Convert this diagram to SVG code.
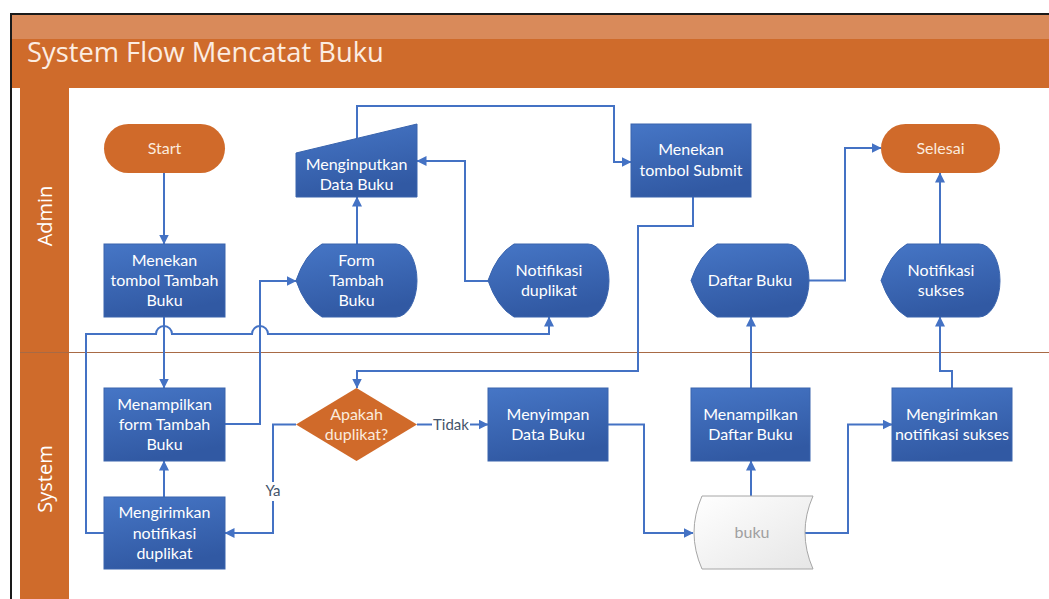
<svg xmlns="http://www.w3.org/2000/svg" width="1049" height="599" viewBox="0 0 1049 599">
<defs>
<linearGradient id="gBlue" x1="0" y1="0" x2="0.3" y2="1">
<stop offset="0" stop-color="#4676C6"/>
<stop offset="1" stop-color="#3159A3"/>
</linearGradient>
<linearGradient id="gGray" x1="0" y1="0" x2="1" y2="1">
<stop offset="0" stop-color="#FFFFFF"/>
<stop offset="1" stop-color="#E6E6E6"/>
</linearGradient>
<marker id="arr" viewBox="0 0 10 10" refX="9.5" refY="5" markerWidth="5" markerHeight="5" orient="auto" markerUnits="strokeWidth">
<path d="M0,0 L10,5 L0,10 Z" fill="#4472C4"/>
</marker>
<style>
.blue{fill:url(#gBlue);stroke:#3A64AD;stroke-width:1}
.orange{fill:#D06A2A;stroke:none}
.t{font-family:"Lato","Liberation Sans",sans-serif;font-size:16px;fill:#FFFFFF;text-anchor:middle}
.to{font-family:"Lato","Liberation Sans",sans-serif;font-size:16px;fill:#FBEBDD;text-anchor:middle}
.c{fill:none;stroke:#4472C4;stroke-width:2}
.ca{fill:none;stroke:#4472C4;stroke-width:2;marker-end:url(#arr)}
.lbl{font-family:"Lato","Liberation Sans",sans-serif;font-size:15px;fill:#44546A;text-anchor:middle}
.lane{font-family:"Open Sans","Noto Sans",sans-serif;font-size:20px;fill:#FFFFFF;text-anchor:middle}
</style>
</defs>
<rect x="0" y="0" width="1049" height="599" fill="#FFFFFF"/>
<g id="frame">
<rect x="11" y="14" width="1040" height="600" fill="#FFFFFF" stroke="#1A1A1A" stroke-width="2"/>
<rect x="12" y="15" width="1037" height="24" fill="#D98A5A"/>
<rect x="12" y="39" width="1037" height="49" fill="#CF6B2B"/>
<text x="27" y="62" font-family="Open Sans, Noto Sans, sans-serif" font-size="27.3" fill="#FCEDE2">System Flow Mencatat Buku</text>
<rect x="20" y="88" width="49" height="520" fill="#CF6B2B"/>
<line x1="20" y1="352.5" x2="1049" y2="352.5" stroke="#A86A45" stroke-width="1.2"/>
<text class="lane" transform="translate(52,216) rotate(-90)">Admin</text>
<text class="lane" transform="translate(52,479) rotate(-90)">System</text>
</g>
<g id="connectors">
<path class="ca" d="M164,173 L164,244"/>
<path class="ca" d="M164,317 L164,388"/>
<path class="ca" d="M225,424 L260,424 L260,281 L296,281"/>
<path class="ca" d="M357,244 L357,197"/>
<path class="ca" d="M357,138 L357,106 L614,106 L614,162 L631,162"/>
<path class="ca" d="M693,197 L693,226 L638,226 L638,371 L357,371 L357,388"/>
<path class="c" d="M417,424.5 L432,424.5"/>
<path class="ca" d="M470,424.5 L488,424.5"/>
<path class="c" d="M296,424.5 L273,424.5 L273,482"/>
<path class="ca" d="M273,501 L273,533 L225,533"/>
<path class="ca" d="M164,497 L164,461"/>
<path class="ca" d="M104,533 L86,533 L86,334 L156,334 A8,8 0 0 1 172,334 L252,334 A8,8 0 0 1 268,334 L549,334 L549,317"/>
<path class="ca" d="M488,281 L465,281 L465,161 L417,161"/>
<path class="ca" d="M608,424.5 L644,424.5 L644,533 L693,533"/>
<path class="ca" d="M751,497 L751,461"/>
<path class="ca" d="M751,388 L751,317"/>
<path class="ca" d="M809,280.5 L845,280.5 L845,148 L881,148"/>
<path class="ca" d="M805,533 L848,533 L848,424.5 L892,424.5"/>
<path class="ca" d="M952,388 L952,371 L940,371 L940,317"/>
<path class="ca" d="M940,244 L940,173"/>
<text class="lbl" x="451" y="429.5">Tidak</text>
<text class="lbl" x="273" y="496">Ya</text>
</g>
<g id="start">
<rect class="orange" x="104" y="124" width="121" height="49" rx="24.5"/>
<text class="to" x="164.5" y="153.5">Start</text>
</g>
<g id="menginputkan">
<polygon class="blue" points="296,153 417,124 417,197 296,197"/>
<text class="t" x="356.5" y="170">Menginputkan</text>
<text class="t" x="356.5" y="190">Data Buku</text>
</g>
<g id="submit">
<rect class="blue" x="631" y="124" width="120" height="73"/>
<text class="t" x="691" y="155">Menekan</text>
<text class="t" x="691" y="176">tombol Submit</text>
</g>
<g id="selesai">
<rect class="orange" x="881" y="124" width="119" height="49" rx="24.5"/>
<text class="to" x="940.5" y="153.5">Selesai</text>
</g>
<g id="tambah">
<rect class="blue" x="104" y="244" width="121" height="73"/>
<text class="t" x="164.5" y="266">Menekan</text>
<text class="t" x="164.5" y="286">tombol Tambah</text>
<text class="t" x="164.5" y="306">Buku</text>
</g>
<g id="form">
<path class="blue" d="M296,280.5 Q305,254 322,244 L396,244 A21,36.5 0 0 1 396,317 L322,317 Q305,307 296,280.5 Z"/>
<text class="t" x="356.5" y="266">Form</text>
<text class="t" x="356.5" y="286">Tambah</text>
<text class="t" x="356.5" y="306">Buku</text>
</g>
<g id="notifdup">
<path class="blue" d="M488,280.5 Q497,254 514,244 L588,244 A21,36.5 0 0 1 588,317 L514,317 Q497,307 488,280.5 Z"/>
<text class="t" x="549" y="276">Notifikasi</text>
<text class="t" x="549" y="296">duplikat</text>
</g>
<g id="daftar">
<path class="blue" d="M691,280.5 Q700,254 717,244 L788,244 A21,36.5 0 0 1 788,317 L717,317 Q700,307 691,280.5 Z"/>
<text class="t" x="750" y="286">Daftar Buku</text>
</g>
<g id="notifsukses">
<path class="blue" d="M881,280.5 Q890,254 907,244 L979,244 A21,36.5 0 0 1 979,317 L907,317 Q890,307 881,280.5 Z"/>
<text class="t" x="941" y="276">Notifikasi</text>
<text class="t" x="941" y="296">sukses</text>
</g>
<g id="menampilkanform">
<rect class="blue" x="104" y="388" width="121" height="73"/>
<text class="t" x="164.5" y="410">Menampilkan</text>
<text class="t" x="164.5" y="430">form Tambah</text>
<text class="t" x="164.5" y="450">Buku</text>
</g>
<g id="apakah">
<polygon class="orange" points="356.5,388 417,424.5 356.5,461 296,424.5"/>
<text class="to" x="356.5" y="420">Apakah</text>
<text class="to" x="356.5" y="440">duplikat?</text>
</g>
<g id="menyimpan">
<rect class="blue" x="488" y="388" width="120" height="73"/>
<text class="t" x="548" y="420">Menyimpan</text>
<text class="t" x="548" y="440">Data Buku</text>
</g>
<g id="menampilkandaftar">
<rect class="blue" x="691" y="388" width="119" height="73"/>
<text class="t" x="750.5" y="420">Menampilkan</text>
<text class="t" x="750.5" y="440">Daftar Buku</text>
</g>
<g id="kirimsukses">
<rect class="blue" x="892" y="388" width="120" height="73"/>
<text class="t" x="952" y="420">Mengirimkan</text>
<text class="t" x="952" y="440">notifikasi sukses</text>
</g>
<g id="kirimdup">
<rect class="blue" x="104" y="497" width="121" height="72"/>
<text class="t" x="164.5" y="518">Mengirimkan</text>
<text class="t" x="164.5" y="539">notifikasi</text>
<text class="t" x="164.5" y="559">duplikat</text>
</g>
<g id="buku">
<path d="M702,496 L813,496 Q797,532.5 813,569 L702,569 Q686,532.5 702,496 Z" fill="url(#gGray)" stroke="#A6A6A6" stroke-width="1"/>
<text x="752" y="538" font-family="Lato, Liberation Sans, sans-serif" font-size="16" fill="#A0A0A0" text-anchor="middle">buku</text>
</g>
</svg>
